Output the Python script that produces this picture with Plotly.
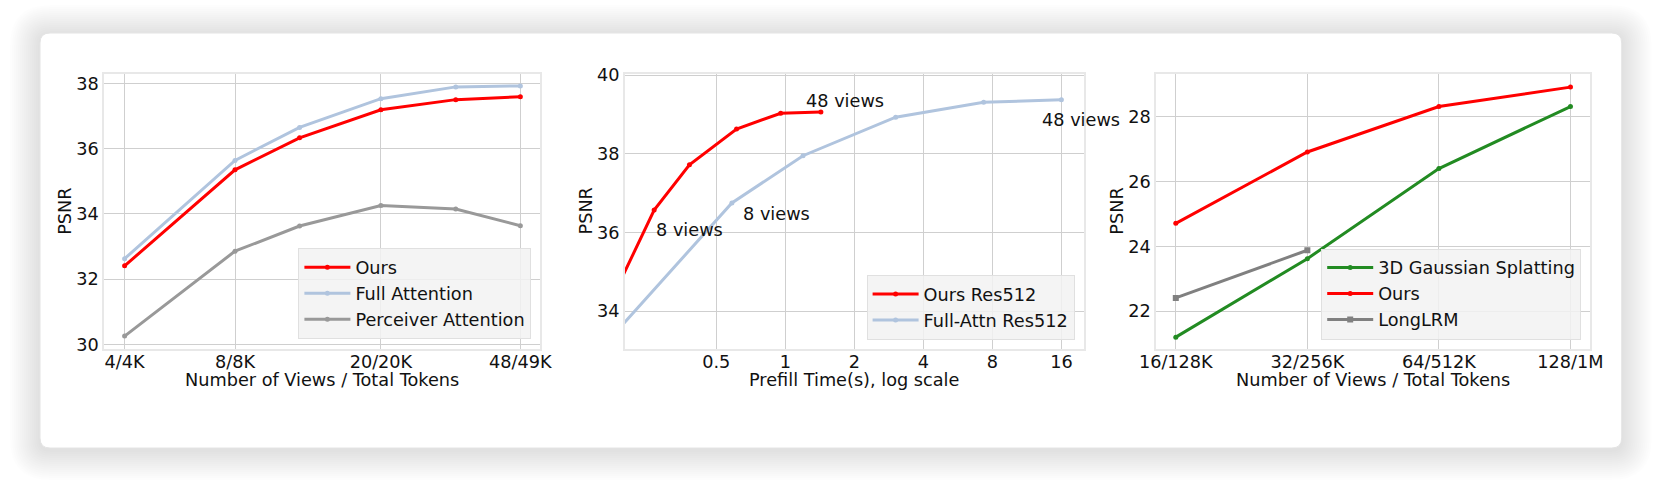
import math
import plotly.graph_objects as go

# ---- data ----
# panel 1: views vs PSNR
views_p1 = [4, 8, 12, 20, 32, 48]
ours_p1 = [32.41, 35.35, 36.33, 37.19, 37.50, 37.59]
full_p1 = [32.63, 35.64, 36.65, 37.53, 37.89, 37.92]
perceiver_p1 = [30.26, 32.86, 33.63, 34.26, 34.15, 33.64]
ticks_p1 = [4, 8, 20, 48]
ticklabels_p1 = ["4/4K", "8/8K", "20/20K", "48/49K"]

# panel 2: prefill time vs PSNR
time_ours = [0.15, 0.268, 0.382, 0.613, 0.955, 1.43]
psnr_ours = [33.48, 36.57, 37.72, 38.63, 39.03, 39.06]
time_full = [0.15, 0.585, 1.195, 3.03, 7.33, 16.0]
psnr_full = [32.91, 36.75, 37.95, 38.93, 39.31, 39.37]
ticks_p2 = [0.5, 1, 2, 4, 8, 16]
ticklabels_p2 = ["0.5", "1", "2", "4", "8", "16"]

# panel 3: views vs PSNR, scene level
views_p3 = [16, 32, 64, 128]
gs_p3 = [21.20, 23.62, 26.40, 28.31]
ours_p3 = [24.71, 26.91, 28.31, 28.91]
longlrm_views = [16, 32]
longlrm_p3 = [22.41, 23.88]
ticklabels_p3 = ["16/128K", "32/256K", "64/512K", "128/1M"]

W, H = 1661, 483
FONT = "DejaVu Sans"
FS = 17.7
RED = "#ff0000"
BLUE = "#b0c4de"
GRAY1 = "#999999"
GRAY3 = "#808080"
GREEN = "#228b22"

def px(x):
    return x / W

def py(y):
    return 1 - y / H

# plot areas in pixels
top, bottom = 73.5, 348.5
doms = [(104.3, 540.0), (625.0, 1083.6), (1156.2, 1590.2)]

fig = go.Figure()

def line(x, y, name, color, axis, legend, symbol="circle", msize=5):
    fig.add_trace(go.Scatter(
        x=x, y=y, name=name, mode="lines+markers",
        line=dict(color=color, width=3),
        marker=dict(color=color, size=msize, symbol=symbol),
        xaxis="x" + axis, yaxis="y" + axis,
        legend=legend, legendgroup=name + axis,
    ))

line(views_p1, ours_p1, "Ours", RED, "", "legend")
line(views_p1, full_p1, "Full Attention", BLUE, "", "legend")
line(views_p1, perceiver_p1, "Perceiver Attention", GRAY1, "", "legend")

line(time_ours, psnr_ours, "Ours Res512", RED, "2", "legend2")
line(time_full, psnr_full, "Full-Attn Res512", BLUE, "2", "legend2")

line(views_p3, gs_p3, "3D Gaussian Splatting", GREEN, "3", "legend3")
line(views_p3, ours_p3, "Ours", RED, "3", "legend3")
line(longlrm_views, longlrm_p3, "LongLRM", GRAY3, "3", "legend3", symbol="square", msize=6)

axis_common = dict(
    showgrid=True, gridcolor="#cfcfcf", gridwidth=1.3,
    showline=True, linecolor="#e8e8e8", linewidth=2, mirror=True,
    ticks="", zeroline=False, automargin=False,
    tickfont=dict(family=FONT, size=FS, color="#111111"),
)

xranges = [
    [math.log10(2 ** 1.816), math.log10(2 ** 5.763)],
    [math.log10(0.2), math.log10(20)],
    [math.log10(2 ** 3.851), math.log10(2 ** 7.15)],
]
yranges = [[29.88, 38.30], [33.05, 40.04], [20.85, 29.33]]
xticks = [(ticks_p1, ticklabels_p1), (ticks_p2, ticklabels_p2), (views_p3, ticklabels_p3)]
yticks = [[30, 32, 34, 36, 38], [34, 36, 38, 40], [22, 24, 26, 28]]

layout = dict()
for i in range(3):
    sfx = "" if i == 0 else str(i + 1)
    x0, x1 = doms[i]
    layout["xaxis" + sfx] = dict(
        axis_common, type="log", range=xranges[i],
        domain=[px(x0), px(x1)], anchor="y" + sfx,
        tickvals=xticks[i][0], ticktext=xticks[i][1], ticklabelstandoff=-4,
    )
    layout["yaxis" + sfx] = dict(
        axis_common, range=yranges[i],
        domain=[py(bottom), py(top)], anchor="x" + sfx,
        tickvals=yticks[i], ticklabelstandoff=0,
    )

legend_style = dict(
    bgcolor="rgba(242,242,242,0.85)", bordercolor="#e0e0e0", borderwidth=1,
    font=dict(family=FONT, size=FS, color="#111111"),
    xanchor="right", yanchor="bottom", tracegroupgap=0, itemwidth=46,
)
layout["legend"] = dict(legend_style, x=px(531.4), y=py(339.3))
layout["legend2"] = dict(legend_style, x=px(1074.6), y=py(340.0))
layout["legend3"] = dict(legend_style, x=px(1581.2), y=py(339.5))

# card with soft shadow
def rrect(x0, y0, x1, y1, r):
    return (f"M {px(x0 + r)},{py(y0)} L {px(x1 - r)},{py(y0)} "
            f"Q {px(x1)},{py(y0)} {px(x1)},{py(y0 + r)} "
            f"L {px(x1)},{py(y1 - r)} Q {px(x1)},{py(y1)} {px(x1 - r)},{py(y1)} "
            f"L {px(x0 + r)},{py(y1)} Q {px(x0)},{py(y1)} {px(x0)},{py(y1 - r)} "
            f"L {px(x0)},{py(y0 + r)} Q {px(x0)},{py(y0)} {px(x0 + r)},{py(y0)} Z")

cx0, cy0, cx1, cy1 = 40, 33, 1621.7, 448
shapes = []
for k in range(15, 0, -1):
    d = 2 * k
    shapes.append(dict(type="path", xref="paper", yref="paper", layer="below",
                       path=rrect(cx0 - d, cy0 - d + 2, cx1 + d, cy1 + d + 2, 10 + d),
                       fillcolor="rgba(0,0,0,0.008)", line=dict(width=0)))
shapes.append(dict(type="path", xref="paper", yref="paper", layer="below",
                   path=rrect(cx0, cy0, cx1, cy1, 10),
                   fillcolor="white", line=dict(color="#e4e4e4", width=1)))

annotations = []
# axis titles
xtitles = ["Number of Views / Total Tokens", "Prefill Time(s), log scale",
           "Number of Views / Total Tokens"]
for i in range(3):
    x0, x1 = doms[i]
    annotations.append(dict(text=xtitles[i], xref="paper", yref="paper",
                            x=px((x0 + x1) / 2), y=py(380), showarrow=False,
                            xanchor="center", yanchor="middle",
                            font=dict(family=FONT, size=FS, color="#111111")))
    annotations.append(dict(text="PSNR", xref="paper", yref="paper", textangle=-90,
                            x=px(x0 - 39.5), y=py((top + bottom) / 2), showarrow=False,
                            xanchor="center", yanchor="middle",
                            font=dict(family=FONT, size=FS, color="#111111")))

# view-count labels on panel 2, anchored at the data points
labels = [
    ("8 views", time_ours[1], psnr_ours[1], 0, -20),
    ("48 views", time_ours[-1], psnr_ours[-1], -17, 11.5),
    ("8 views", time_full[1], psnr_full[1], 9, -11),
    ("48 views", time_full[-1], psnr_full[-1], -21.5, -20.5),
]
for txt, xv, yv, dx, dy in labels:
    annotations.append(dict(text=txt, xref="x2", yref="y2", x=math.log10(xv), y=yv,
                            showarrow=False, xanchor="left", yanchor="middle",
                            xshift=dx, yshift=dy,
                            font=dict(family=FONT, size=FS, color="#111111")))

fig.update_layout(
    template="none",
    width=W, height=H, margin=dict(l=0, r=0, t=0, b=0, pad=0, autoexpand=False),
    paper_bgcolor="white", plot_bgcolor="rgba(0,0,0,0)",
    font=dict(family=FONT, size=FS, color="#111111"),
    shapes=shapes, annotations=annotations,
    **layout,
)

fig.write_html("out.html", config={"displayModeBar": False},
               post_script="document.body.style.margin='0px';")
